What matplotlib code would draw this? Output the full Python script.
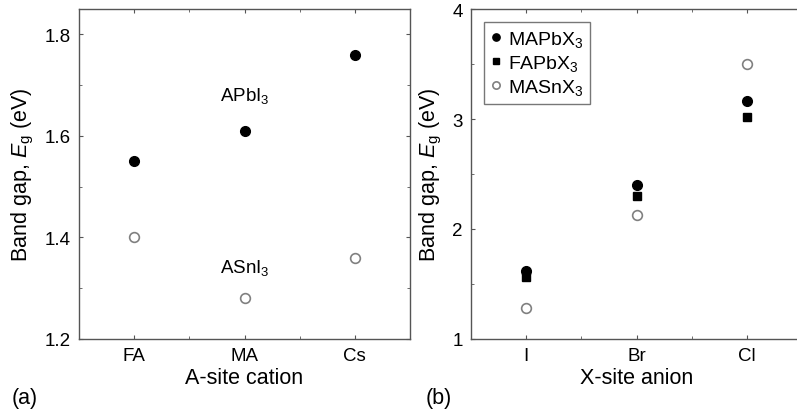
import matplotlib
matplotlib.use("Agg")
import matplotlib.pyplot as plt
from matplotlib.ticker import MultipleLocator

plt.rcParams['font.family'] = ['Liberation Sans', 'DejaVu Sans']
plt.rcParams['mathtext.fontset'] = 'custom'
plt.rcParams['mathtext.rm'] = 'Liberation Sans'
plt.rcParams['mathtext.it'] = 'Liberation Sans:italic'

# Panel (a)
cations = ["FA", "MA", "Cs"]
apbi3 = [1.55, 1.61, 1.76]
asni3 = [1.40, 1.28, 1.36]

# Panel (b)
anions = ["I", "Br", "Cl"]
mapbx3 = [1.62, 2.40, 3.16]
fapbx3 = [1.56, 2.30, 3.02]
masnx3 = [1.28, 2.13, 3.50]

W, H = 797, 414
fig = plt.figure(figsize=(W/100, H/100), dpi=100)
spine_c = '#555555'
open_c = '#808080'
TICK_FS = 13.5
LAB_FS = 15.5

def style(ax):
    for s in ax.spines.values():
        s.set_color(spine_c)
        s.set_linewidth(1.0)
    ax.tick_params(which='both', direction='in', top=True, right=True, color=spine_c,
                   labelsize=TICK_FS, pad=6)
    ax.tick_params(which='major', length=3)
    ax.tick_params(which='minor', length=2)
    ax.xaxis.set_minor_locator(MultipleLocator(0.5))

ax1 = fig.add_axes([79/W, 1-340/H, 331/W, 330/H])
xa = list(range(1, len(cations)+1))
ax1.plot(xa, apbi3, 'o', color='black', ms=7, mec='black')
ax1.plot(xa, asni3, 'o', mfc='white', mec=open_c, ms=7, mew=1.2)
ax1.set_xlim(0.5, 3.5)
ax1.set_ylim(1.2, 1.85)
ax1.set_xticks(xa)
ax1.set_xticklabels(cations)
ax1.set_yticks([1.2, 1.4, 1.6, 1.8])
ax1.yaxis.set_minor_locator(MultipleLocator(0.1))
style(ax1)
ax1.set_ylabel(r'Band gap, $E_\mathrm{g}$ (eV)', fontsize=LAB_FS, labelpad=6)
ax1.set_xlabel('A-site cation', fontsize=LAB_FS, labelpad=2)
ax1.text(2, 1.68, r'APbI$_3$', ha='center', va='center', fontsize=TICK_FS)
ax1.text(2, 1.342, r'ASnI$_3$', ha='center', va='center', fontsize=TICK_FS)
fig.text(12/W, 1-399/H, '(a)', fontsize=15.5, va='center')

ax2 = fig.add_axes([471/W, 1-340/H, 331/W, 330/H])
xb = list(range(1, len(anions)+1))
ax2.plot(xb, mapbx3, 'o', color='black', ms=7, label=r'MAPbX$_3$')
ax2.plot(xb, fapbx3, 's', color='black', ms=6, label=r'FAPbX$_3$')
ax2.plot(xb, masnx3, 'o', mfc='white', mec=open_c, ms=7, mew=1.2, label=r'MASnX$_3$')
ax2.set_xlim(0.5, 3.5)
ax2.set_ylim(1, 4)
ax2.set_xticks(xb)
ax2.set_xticklabels(anions)
ax2.set_yticks([1, 2, 3, 4])
ax2.yaxis.set_minor_locator(MultipleLocator(0.5))
style(ax2)
ax2.set_ylabel(r'Band gap, $E_\mathrm{g}$ (eV)', fontsize=LAB_FS, labelpad=6)
ax2.set_xlabel('X-site anion', fontsize=LAB_FS, labelpad=2)
leg = ax2.legend(loc='upper left', bbox_to_anchor=(0.04, 0.96), fontsize=14, frameon=True,
                 fancybox=False, edgecolor=spine_c, handlelength=0.5, handletextpad=0.35,
                 borderpad=0.35, labelspacing=0.2, markerscale=0.75, borderaxespad=0)
leg.get_frame().set_linewidth(1.0)
fig.text(426/W, 1-399/H, '(b)', fontsize=15.5, va='center')

fig.savefig('out.png', dpi=100)
